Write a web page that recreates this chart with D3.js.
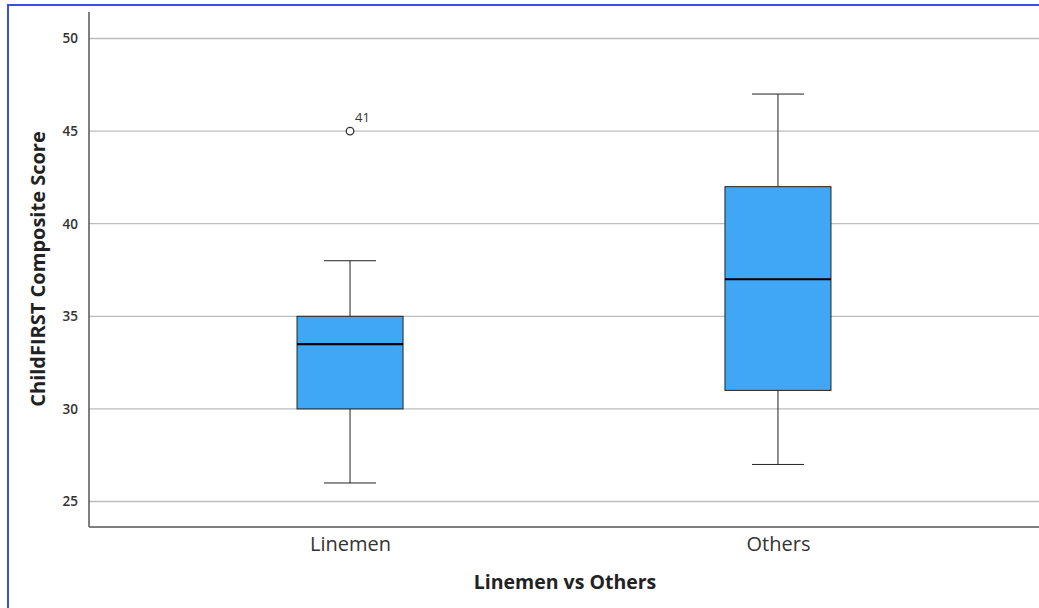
<!DOCTYPE html>
<html>
<head>
<meta charset="utf-8">
<style>
body { margin: 0; background: #fff; width: 1039px; height: 608px; overflow: hidden; }
.frame { position: absolute; left: 7px; top: 4px; width: 1040px; height: 620px; border: 2px solid #3a4fe0; box-sizing: border-box; }
.tick text { font-family: "Open Sans", "DejaVu Sans", sans-serif; fill: #333; }
</style>
</head>
<body>
<div class="frame"></div>
<svg width="1039" height="608" style="position:absolute;left:0;top:0"></svg>
<script src="https://d3js.org/d3.v7.min.js"></script>
<script>
// groups
var groups = ["Linemen", "Others"];
var whiskLow = [26, 27];
var q1 = [30, 31];
var medians = [33.5, 37];
var q3 = [35, 42];
var whiskHigh = [38, 47];
// outliers: group, value, case label
var outliers = [{ g: "Linemen", v: 45, label: "41" }];
var yTicks = [25, 30, 35, 40, 45, 50];

var svg = d3.select("svg");
var plotL = 89, plotR = 1039, plotT = 12, plotB = 527;

var y = d3.scaleLinear().domain([25, 50]).range([501.5, 38.5]);
var x = d3.scalePoint().domain(groups).range([plotL, plotR]).padding(0.61);
var boxW = 106, capW = 52;
var font = "'Open Sans', 'DejaVu Sans', sans-serif";

// gridlines
svg.append("g").selectAll("line").data(yTicks).join("line")
    .attr("x1", plotL).attr("x2", plotR)
    .attr("y1", function(d) { return y(d); }).attr("y2", function(d) { return y(d); })
    .attr("stroke", "#bdbdbd").attr("stroke-width", 1.3);

// axes
var yAxis = svg.append("g")
    .attr("transform", "translate(" + plotL + ",0)")
    .call(d3.axisLeft(y).tickValues(yTicks).tickSize(0).tickPadding(11));
yAxis.select(".domain").remove();
yAxis.selectAll("text").attr("font-size", 13.5).attr("font-weight", 600);

var xAxis = svg.append("g")
    .attr("transform", "translate(0," + plotB + ")")
    .call(d3.axisBottom(x).tickSize(0).tickPadding(10));
xAxis.select(".domain").remove();
xAxis.selectAll("text").attr("font-size", 20).attr("fill", "#222");

svg.append("line").attr("x1", plotL).attr("x2", plotL).attr("y1", plotT).attr("y2", plotB)
    .attr("stroke", "#555").attr("stroke-width", 1.5);
svg.append("line").attr("x1", plotL).attr("x2", plotR).attr("y1", plotB).attr("y2", plotB)
    .attr("stroke", "#555").attr("stroke-width", 1.5);

// boxes
var boxes = svg.append("g").selectAll("g").data(groups).join("g");
boxes.each(function(g, i) {
  var el = d3.select(this), cx = x(g);
  el.append("line").attr("x1", cx).attr("x2", cx).attr("y1", y(whiskLow[i])).attr("y2", y(q1[i]))
      .attr("stroke", "#222").attr("stroke-width", 1);
  el.append("line").attr("x1", cx).attr("x2", cx).attr("y1", y(q3[i])).attr("y2", y(whiskHigh[i]))
      .attr("stroke", "#222").attr("stroke-width", 1);
  [whiskLow[i], whiskHigh[i]].forEach(function(v) {
    el.append("line").attr("x1", cx - capW / 2).attr("x2", cx + capW / 2)
        .attr("y1", y(v)).attr("y2", y(v)).attr("stroke", "#222").attr("stroke-width", 1);
  });
  el.append("rect").attr("x", cx - boxW / 2).attr("width", boxW)
      .attr("y", y(q3[i])).attr("height", y(q1[i]) - y(q3[i]))
      .attr("fill", "#3fa7f6").attr("stroke", "#222").attr("stroke-width", 1);
  el.append("line").attr("x1", cx - boxW / 2).attr("x2", cx + boxW / 2)
      .attr("y1", y(medians[i])).attr("y2", y(medians[i]))
      .attr("stroke", "#000").attr("stroke-width", 2.2);
});

// outliers
svg.append("g").selectAll("circle").data(outliers).join("circle")
    .attr("cx", function(d) { return x(d.g); }).attr("cy", function(d) { return y(d.v); })
    .attr("r", 3.8).attr("fill", "#fff").attr("stroke", "#333").attr("stroke-width", 1.3);
svg.append("g").selectAll("text").data(outliers).join("text")
    .attr("x", function(d) { return x(d.g) + 5; }).attr("y", function(d) { return y(d.v) - 9; })
    .attr("font-family", font).attr("font-size", 13)
    .attr("fill", "#333").text(function(d) { return d.label; });

// titles
svg.append("text").attr("transform", "translate(45," + 269 + ") rotate(-90)")
    .attr("text-anchor", "middle").attr("font-family", font)
    .attr("font-size", 20).attr("font-weight", 700).attr("fill", "#222")
    .text("ChildFIRST Composite Score");
svg.append("text").attr("x", 565).attr("y", 589)
    .attr("text-anchor", "middle").attr("font-family", font)
    .attr("font-size", 19.5).attr("font-weight", 700).attr("fill", "#222")
    .text("Linemen vs Others");
</script>
</body>
</html>
